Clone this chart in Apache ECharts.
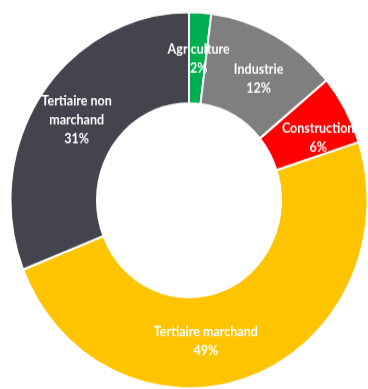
<!DOCTYPE html>
<html>
<head>
<meta charset="utf-8">
<script src="https://cdn.jsdelivr.net/npm/echarts@6/dist/echarts.min.js"></script>
<style>
  html, body { margin: 0; padding: 0; background: #ffffff; overflow: hidden; }
  #wrap { width: 368px; height: 389px; overflow: hidden; }
  /* the ring is drawn slightly taller than wide */
  #chart { width: 368px; height: 369px; transform: scaleY(1.054); transform-origin: 0 0; }
</style>
</head>
<body>
<div id="wrap"><div id="chart"></div></div>
<script>
// Répartition de l'emploi par secteur (en %)
const sectors = ['Agriculture', 'Industrie', 'Construction', 'Tertiaire marchand', 'Tertiaire non\nmarchand'];
const shares = [2, 12, 6, 49, 31];
const colors = ['#00B050', '#7F7F7F', '#FF0000', '#FFC400', '#44444F'];
// small nudges of each label away from the slice's middle
const labelShift = [[1, 4], [3, 6], [8, 8], [-30, 4], [2, 2]];

const chart = echarts.init(document.getElementById('chart'), null, { renderer: 'canvas' });
chart.setOption({
  animation: false,
  series: [{
    type: 'pie',
    center: [189, 190],
    radius: [92, 178.5],
    startAngle: 90,
    clockwise: true,
    avoidLabelOverlap: false,
    itemStyle: { borderColor: '#ffffff', borderWidth: 2 },
    label: {
      show: true,
      position: 'inside',
      formatter: '{b}\n{c}%',
      color: '#ffffff',
      fontFamily: 'Lato, "Open Sans", sans-serif',
      fontWeight: 'bold',
      fontSize: 12.5,
      lineHeight: 18,
      align: 'center'
    },
    labelLine: { show: false },
    labelLayout: function (p) {
      const s = labelShift[p.dataIndex];
      return { dx: s[0], dy: s[1] };
    },
    emphasis: { disabled: true },
    data: sectors.map((name, i) => ({ name: name, value: shares[i], itemStyle: { color: colors[i] } }))
  }]
});
</script>
</body>
</html>
